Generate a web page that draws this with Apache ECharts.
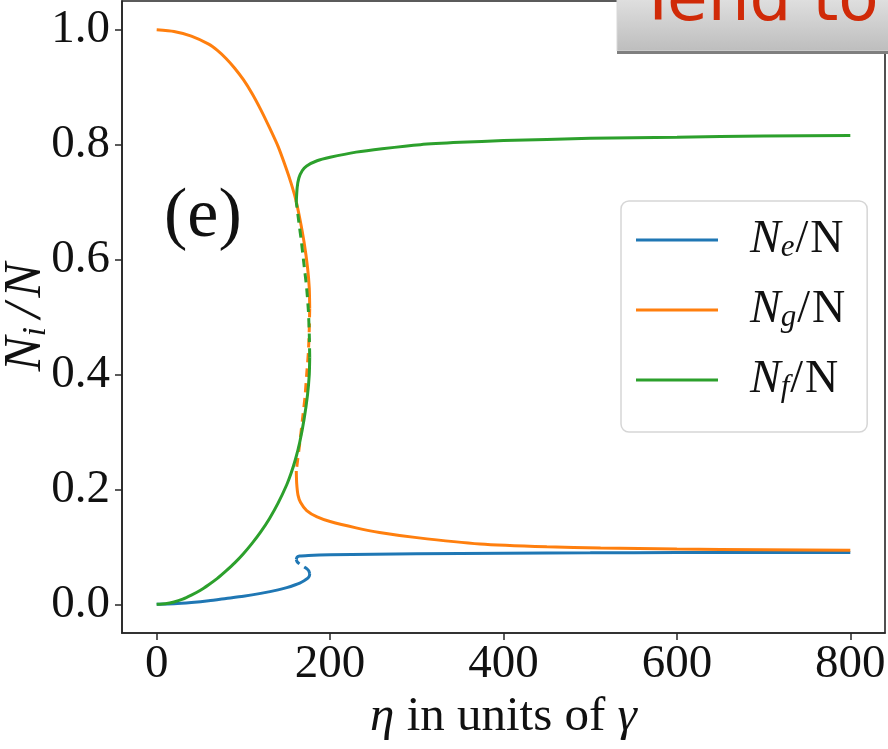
<!DOCTYPE html>
<html><head><meta charset="utf-8">
<script src="https://cdn.jsdelivr.net/npm/echarts@6/dist/echarts.min.js"></script>
<style>html,body{margin:0;padding:0;background:#fff}#c{width:888px;height:749px}</style>
</head><body><div id="c"></div>
<script>
// ---- tick labels ----
const xTicks = [0, 200, 400, 600, 800];
const yTicks = [0.0, 0.2, 0.4, 0.6, 0.8, 1.0];
const seriesNames = ['Ne', 'Ng', 'Nf'];
const subscripts = ['e', 'g', 'f'];

// ---- N_e / N ----
const neLowEta  = [0, 20, 40, 60, 80, 100, 120, 140, 150, 160, 165, 170, 174, 176, 176.5];
const neLowVal  = [0, 0.0008, 0.003, 0.006, 0.010, 0.014, 0.019, 0.025, 0.029, 0.034, 0.037, 0.041, 0.045, 0.049, 0.053];
const neMidEta  = [176.5, 175.5, 173, 169, 165, 162, 161];
const neMidVal  = [0.053, 0.058, 0.062, 0.066, 0.070, 0.074, 0.078];
const neHighEta = [161, 162, 165, 175, 200, 250, 300, 400, 500, 600, 700, 800];
const neHighVal = [0.078, 0.082, 0.084, 0.085, 0.086, 0.087, 0.088, 0.089, 0.0895, 0.090, 0.090, 0.090];

// ---- N_g / N ----
const ngHighEta = [0, 20, 40, 60, 70, 80, 90, 100, 110, 120, 130, 140, 150, 155, 160, 165, 170, 174, 176, 176.5];
const ngHighVal = [1.0, 0.997, 0.989, 0.975, 0.964, 0.950, 0.933, 0.913, 0.889, 0.861, 0.830, 0.797, 0.756, 0.733, 0.707, 0.672, 0.630, 0.586, 0.550, 0.515];
const ngMidEta  = [176.5, 176, 175, 173, 171, 168, 165, 162.5, 161];
const ngMidVal  = [0.515, 0.48, 0.44, 0.40, 0.36, 0.32, 0.28, 0.25, 0.232];
const ngLowEta  = [161, 161.5, 163, 166, 173, 185, 200, 230, 257, 300, 373, 450, 512, 600, 700, 800];
const ngLowVal  = [0.232, 0.21, 0.19, 0.177, 0.163, 0.152, 0.144, 0.133, 0.125, 0.116, 0.105, 0.100, 0.098, 0.096, 0.095, 0.094];

// ---- N_f / N ----
const nfLowEta  = [0, 10, 20, 30, 40, 50, 60, 70, 80, 90, 100, 110, 120, 130, 140, 150, 155, 160, 165, 170, 174, 176, 176.5];
const nfLowVal  = [0, 0.001, 0.004, 0.009, 0.016, 0.024, 0.034, 0.045, 0.058, 0.072, 0.088, 0.106, 0.126, 0.149, 0.176, 0.208, 0.228, 0.252, 0.282, 0.322, 0.365, 0.400, 0.43];
const nfMidEta  = [176.5, 176, 175, 173, 170, 167, 164, 161];
const nfMidVal  = [0.43, 0.47, 0.51, 0.55, 0.59, 0.63, 0.665, 0.70];
const nfHighEta = [161, 162, 164, 168, 173, 185, 200, 230, 260, 304, 350, 400, 500, 600, 700, 800];
const nfHighVal = [0.70, 0.725, 0.742, 0.755, 0.763, 0.772, 0.778, 0.787, 0.793, 0.800, 0.804, 0.807, 0.811, 0.813, 0.815, 0.816];

const colors = ['#1f77b4', '#ff7f0e', '#2ca02c'];
const SERIF = 'Liberation Serif';

function pairs(xs, ys) { return xs.map((x, i) => [x, ys[i]]); }
function branch(name, color, xs, ys, dashed) {
  return {
    name: name, type: 'line', data: pairs(xs, ys), showSymbol: false, symbol: 'none',
    smooth: 0.2, silent: true,
    lineStyle: { color: color, width: 3, type: dashed ? [9, 6] : 'solid' },
    itemStyle: { color: color }
  };
}

const series = [
  branch('Ne', colors[0], neLowEta, neLowVal, false),
  branch('Ne', colors[0], neMidEta, neMidVal, true),
  branch('Ne', colors[0], neHighEta, neHighVal, false),
  branch('Ng', colors[1], ngHighEta, ngHighVal, false),
  branch('Ng', colors[1], ngMidEta, ngMidVal, true),
  branch('Ng', colors[1], ngLowEta, ngLowVal, false),
  branch('Nf', colors[2], nfLowEta, nfLowVal, false),
  branch('Nf', colors[2], nfMidEta, nfMidVal, true),
  branch('Nf', colors[2], nfHighEta, nfHighVal, false)
];

const chart = echarts.init(document.getElementById('c'), null, { renderer: 'canvas' });
chart.setOption({
  backgroundColor: '#ffffff',
  animation: false,
  grid: { left: 122, right: 3, top: 1, bottom: 116, show: true, borderColor: '#262626', borderWidth: 1.6,
          backgroundColor: 'transparent', containLabel: false, outerBoundsMode: 'none' },
  xAxis: {
    type: 'value', min: -40, max: 840,
    name: '{g|η}{t| in units of }{g|γ}', nameLocation: 'middle', nameGap: 60, nameMoveOverlap: false,
    nameTextStyle: { rich: {
      g: { fontFamily: SERIF, fontStyle: 'italic', fontSize: 49, color: '#111' },
      t: { fontFamily: SERIF, fontSize: 49, color: '#111' } } },
    axisLine: { show: true, onZero: false, lineStyle: { color: '#262626', width: 1.6 } },
    axisTick: { show: true, length: 7, customValues: xTicks, lineStyle: { color: '#262626', width: 1.5 } },
    axisLabel: { customValues: xTicks, fontFamily: SERIF, fontSize: 47, color: '#111', margin: 8 },
    splitLine: { show: false }
  },
  yAxis: {
    type: 'value', min: -0.05, max: 1.05,
    name: '{i|N}{s|i}{sl|/}{i|N}', nameLocation: 'middle', nameGap: 69, nameRotate: 90, nameMoveOverlap: false,
    nameTextStyle: { rich: {
      i: { fontFamily: SERIF, fontStyle: 'italic', fontSize: 52, color: '#111', lineHeight: 54 },
      s: { fontFamily: SERIF, fontStyle: 'italic', fontSize: 34, color: '#111', lineHeight: 18, verticalAlign: 'bottom', padding: [0, 3, 0, 0] },
      sl: { fontFamily: SERIF, fontStyle: 'italic', fontSize: 52, color: '#111', lineHeight: 54, padding: [0, 6, 0, 6] } } },
    axisLine: { show: true, onZero: false, lineStyle: { color: '#262626', width: 1.6 } },
    axisTick: { show: true, length: 7, customValues: yTicks, lineStyle: { color: '#262626', width: 1.5 } },
    axisLabel: { customValues: yTicks, fontFamily: SERIF, fontSize: 47, color: '#111', margin: 12,
      formatter: v => v.toFixed(1) },
    splitLine: { show: false }
  },
  legend: {
    data: seriesNames, orient: 'vertical', left: 621, top: 201,
    backgroundColor: '#ffffff', borderColor: '#d6d6d6', borderWidth: 1.5, borderRadius: 8,
    padding: [16, 22, 29, 15], itemWidth: 82, itemHeight: 3, itemGap: 24, icon: 'rect',
    selectedMode: false,
    formatter: function (name) {
      const sub = subscripts[seriesNames.indexOf(name)];
      return '{n|N}{s|' + sub + '}{sl|/}{r|N}';
    },
    textStyle: { rich: {
      n: { fontFamily: SERIF, fontStyle: 'italic', fontSize: 46, color: '#111', lineHeight: 46, padding: [0, 0, 0, 27] },
      s: { fontFamily: SERIF, fontStyle: 'italic', fontSize: 31, color: '#111', lineHeight: 14, verticalAlign: 'bottom' },
      sl: { fontFamily: SERIF, fontSize: 46, color: '#111', lineHeight: 46, padding: [0, 2, 0, 1] },
      r: { fontFamily: SERIF, fontSize: 46, color: '#111', lineHeight: 46 } } }
  },
  graphic: [
    { type: 'text', left: 164, top: 183, z: 10,
      style: { text: '(e)', font: '70px "Liberation Serif"', fill: '#111' } },
    { type: 'rect', shape: { x: 617, y: -5, width: 280, height: 56 }, z: 20,
      style: { fill: new echarts.graphic.LinearGradient(0, 0, 0, 1, [
        { offset: 0, color: '#e2e2e2' }, { offset: 1, color: '#bdbdbd' }]), stroke: '#d8d8d8', lineWidth: 1 } },
    { type: 'rect', shape: { x: 617, y: 51, width: 280, height: 3 }, z: 21,
      style: { fill: '#7f7f7f' } },
    { type: 'text', x: 638, y: 3, z: 22,
      style: { text: 'Tend to', font: '66px "DejaVu Sans"', fill: '#d02a08', verticalAlign: 'middle', align: 'left' } }
  ],
  series: series
});
</script></body></html>
